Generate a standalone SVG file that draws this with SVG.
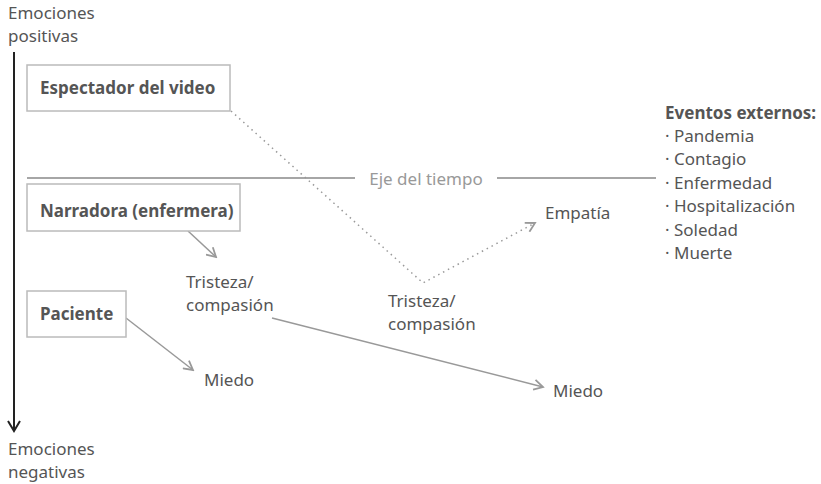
<svg xmlns="http://www.w3.org/2000/svg" width="821" height="484" viewBox="0 0 821 484">
<style>
text{font-family:"Noto Sans","Open Sans",sans-serif;font-size:17px;fill:#555}
.b{font-weight:bold;fill:#555}
.box{fill:#fff;stroke:#bbb;stroke-width:1.5}
.ax{fill:#999}
.c{fill:none;stroke:#999;stroke-width:1.5}
.d{fill:none;stroke:#999;stroke-width:1.5;stroke-dasharray:1.5 4}
</style>
<defs>
<marker id="ah" viewBox="0 0 12 12" refX="10" refY="6" markerWidth="12" markerHeight="12" markerUnits="userSpaceOnUse" orient="auto">
<path d="M1,1 L10,6 L1,11" fill="none" stroke="#999" stroke-width="1.8"/>
</marker>
</defs>
<g id="axis">
<line x1="14" y1="52" x2="14" y2="431" stroke="#222" stroke-width="2"/>
<path d="M8,421 L14,431 L20,421" fill="none" stroke="#222" stroke-width="2"/>
<text x="8" y="19">Emociones<tspan x="8" dy="23.4">positivas</tspan></text>
<text x="8" y="455">Emociones<tspan x="8" dy="23.4">negativas</tspan></text>
</g>
<g id="timeline">
<line x1="27" y1="178" x2="355" y2="178" stroke="#888" stroke-width="1.3"/>
<line x1="497" y1="178" x2="656" y2="178" stroke="#888" stroke-width="1.3"/>
<text x="426" y="185" text-anchor="middle" class="ax">Eje del tiempo</text>
</g>
<g id="connectors">
<line class="c" x1="188" y1="231" x2="216" y2="257" marker-end="url(#ah)"/>
<line class="c" x1="126" y1="318" x2="193" y2="370" marker-end="url(#ah)"/>
<line class="c" x1="272" y1="318" x2="543" y2="387" marker-end="url(#ah)"/>
<polyline class="d" points="231,111 423,283 535,223" marker-end="url(#ah)"/>
</g>
<g id="espectador">
<rect class="box" x="27" y="65" width="203" height="46"/>
<text class="b" x="40" y="94">Espectador del video</text>
</g>
<g id="narradora">
<rect class="box" x="27" y="184" width="213" height="47"/>
<text class="b" x="40" y="217">Narradora (enfermera)</text>
</g>
<g id="paciente">
<rect class="box" x="27" y="291" width="99" height="46"/>
<text class="b" x="40" y="320">Paciente</text>
</g>
<g id="tristeza1">
<text x="186" y="288">Tristeza/<tspan x="186" dy="23.4">compasión</tspan></text>
</g>
<g id="miedo1"><text x="204" y="386">Miedo</text></g>
<g id="tristeza2">
<text x="388" y="307">Tristeza/<tspan x="388" dy="23.4">compasión</tspan></text>
</g>
<g id="miedo2"><text x="553" y="397">Miedo</text></g>
<g id="empatia"><text x="545" y="219">Empatía</text></g>
<g id="eventos">
<text class="b" x="665" y="119">Eventos externos:</text>
<text x="665" y="142">· Pandemia<tspan x="665" dy="23.4">· Contagio</tspan><tspan x="665" dy="23.4">· Enfermedad</tspan><tspan x="665" dy="23.4">· Hospitalización</tspan><tspan x="665" dy="23.4">· Soledad</tspan><tspan x="665" dy="23.4">· Muerte</tspan></text>
</g>
</svg>
